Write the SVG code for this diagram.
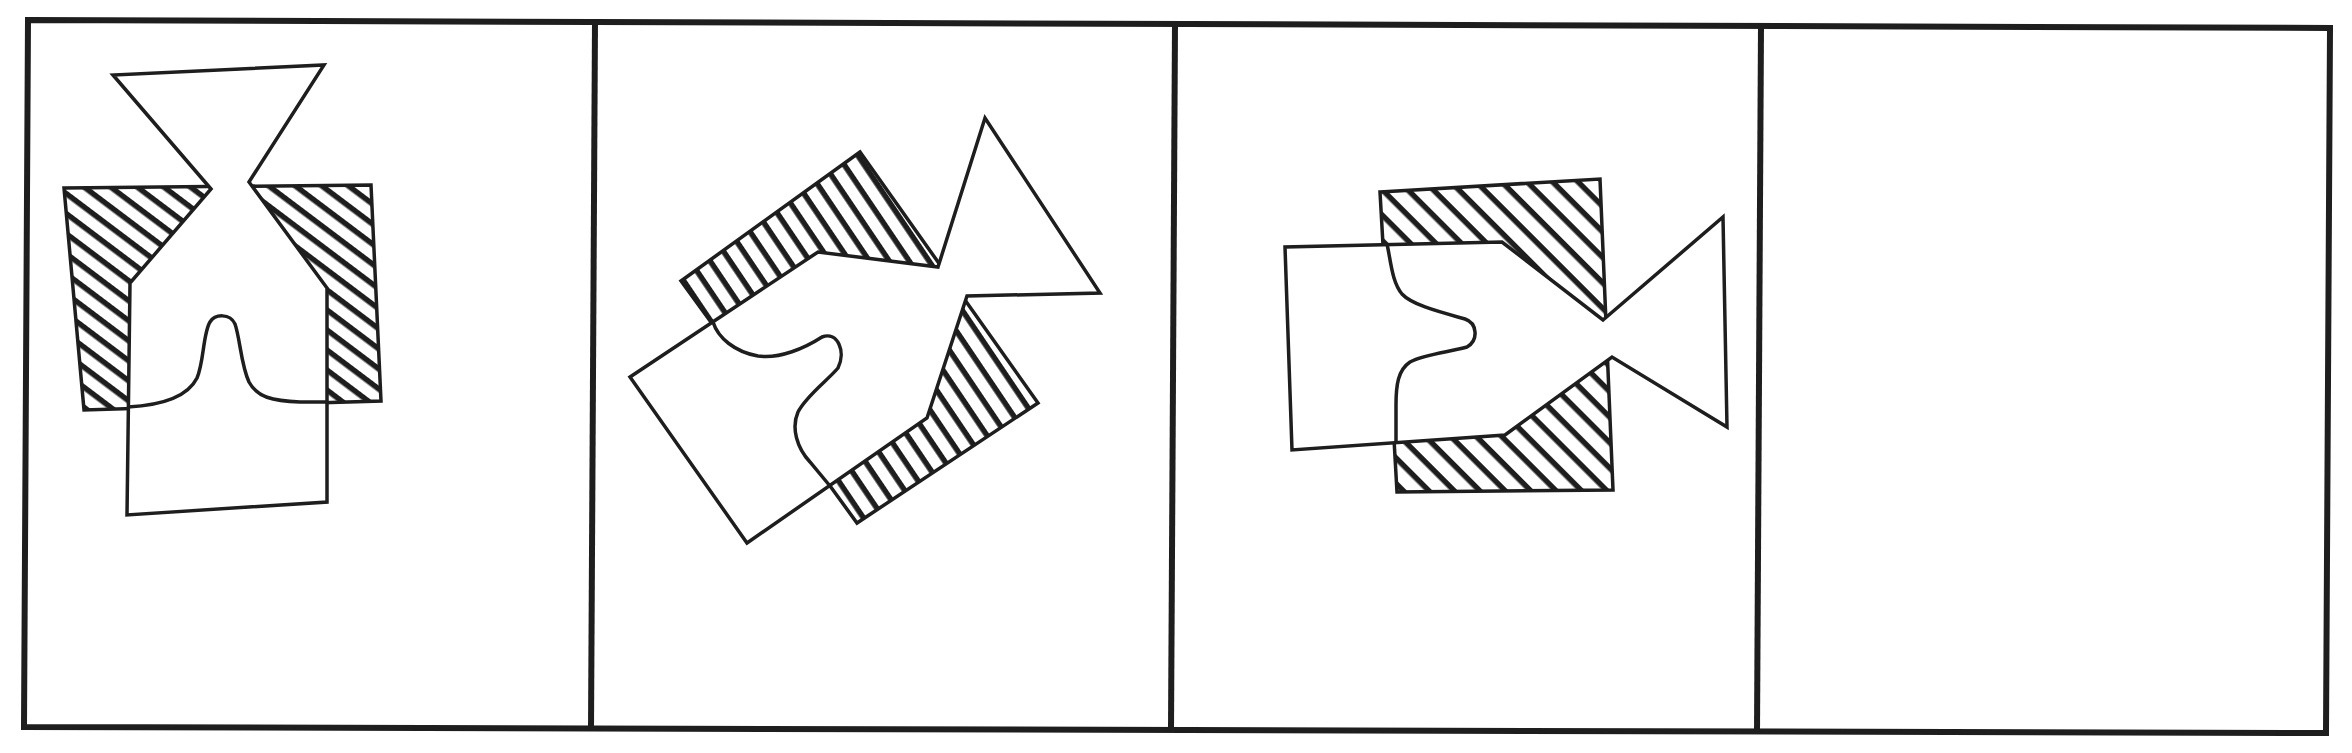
<svg xmlns="http://www.w3.org/2000/svg" width="2352" height="753" viewBox="0 0 2352 753">
<defs>
<pattern id="h1" patternUnits="userSpaceOnUse" width="20" height="16" patternTransform="rotate(37)"><rect x="0" y="0" width="20" height="5.5" fill="#1e1e1e"/></pattern>
<pattern id="h2" patternUnits="userSpaceOnUse" width="20" height="16.5" patternTransform="rotate(56)"><rect x="0" y="0" width="20" height="5.5" fill="#1e1e1e"/></pattern>
<pattern id="h3" patternUnits="userSpaceOnUse" width="20" height="18" patternTransform="rotate(45)"><rect x="0" y="0" width="20" height="5.5" fill="#1e1e1e"/></pattern>
</defs>
<style>
.frame{fill:none;stroke:#1e1e1e;stroke-width:6;stroke-linejoin:miter}
.sep{stroke:#1e1e1e;stroke-width:6}
.hatch{stroke:#1e1e1e;stroke-width:3.5;stroke-linejoin:miter}
.body{fill:#fff;stroke:#1e1e1e;stroke-width:3.5;stroke-linejoin:miter}
.curve{fill:none;stroke:#1e1e1e;stroke-width:3.5}
</style>
<rect width="2352" height="753" fill="#fff"/>
<g id="frame">
<polygon class="frame" points="28,20 2330,28 2326,733 24,727"/>
<line class="sep" x1="595" y1="22" x2="591" y2="728.5"/>
<line class="sep" x1="1175" y1="24" x2="1171" y2="730"/>
<line class="sep" x1="1761" y1="26" x2="1757" y2="731.5"/>
</g>
<g id="panel1">
<polygon class="hatch" fill="url(#h1)" points="64,188 371,185 381,401 84,410"/>
<polygon class="body" points="211,189 113,75 324,65 249,182 327,288 327,502 127,515 130,283"/>
<path class="curve" d="M128,407 C165,405 188,396 197,378 C204,362 203,333 210,322 C215,314 230,313 235,324 C240,338 241,365 249,382 C257,397 272,401 300,402 L327,402"/>
</g>
<g id="panel2">
<polygon class="hatch" fill="url(#h2)" points="681,281 860,152 1038,403 857,523"/>
<polygon class="body" points="938,267 985,118 1100,293 967,296 927,418 747,543 630,377 818,252"/>
<path class="curve" d="M713,322 C718,338 735,352 758,356 C780,359 805,348 822,337 C838,331 846,352 838,368 C828,380 806,396 798,412 C791,428 797,448 810,462 L830,486"/>
</g>
<g id="panel3">
<polygon class="hatch" fill="url(#h3)" points="1380,192 1600,179 1613,490 1397,492"/>
<polygon class="body" points="1603,320 1723,217 1727,427 1612,357 1505,435 1292,450 1285,247 1502,242"/>
<path class="curve" d="M1387,244 C1391,262 1392,282 1402,294 C1412,305 1440,312 1465,319 C1477,323 1479,340 1467,347 C1450,352 1425,354 1410,362 C1398,370 1396,385 1396,405 L1396,443"/>
</g>
</svg>
